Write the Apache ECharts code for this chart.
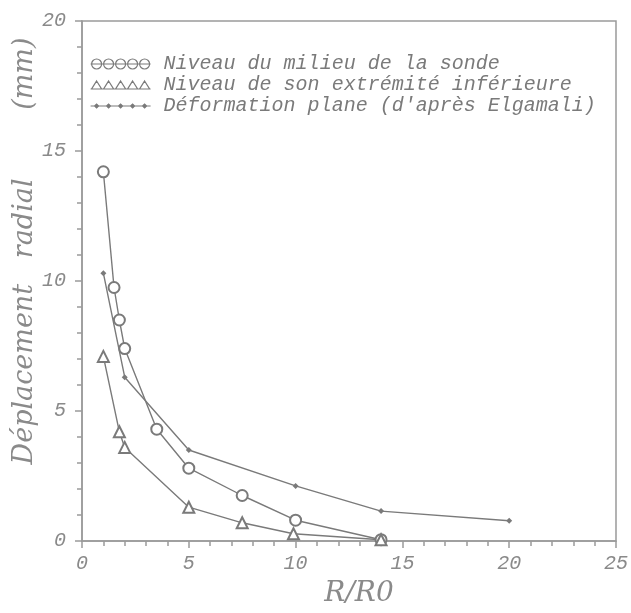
<!DOCTYPE html>
<html>
<head>
<meta charset="utf-8">
<script src="https://cdn.jsdelivr.net/npm/echarts@6/dist/echarts.min.js"></script>
<style>
  html, body { margin: 0; padding: 0; background: #fff; }
  #main { width: 631px; height: 613px; }
</style>
</head>
<body>
<div id="main"></div>
<script>
// R/R0 et déplacement radial (mm)
var rMilieu = [1, 1.5, 1.75, 2, 3.5, 5, 7.5, 10, 14];
var dMilieu = [14.2, 9.75, 8.5, 7.4, 4.3, 2.8, 1.75, 0.8, 0.05];

var rBas = [1, 1.75, 2, 5, 7.5, 9.9, 14];
var dBas = [7.1, 4.2, 3.6, 1.3, 0.7, 0.28, 0.05];

var rPlane = [1, 2, 5, 10, 14, 20];
var dPlane = [10.3, 6.3, 3.5, 2.12, 1.15, 0.78];

var noms = [
  'Niveau du milieu de la sonde',
  'Niveau de son extrémité inférieure',
  "Déformation plane (d'après Elgamali)"
];

var gris = '#7a7a7a';
var grisAxe = '#9a9a9a';

function paires(xs, ys) {
  return xs.map(function (x, i) { return [x, ys[i]]; });
}

// icones de légende : 5 symboles sur une ligne
var iconeCercles = 'path://M0,5 L60,5 ' +
  [6, 18, 30, 42, 54].map(function (c) {
    return 'M' + (c - 5) + ',5 A5,5 0 1,1 ' + (c + 5) + ',5 A5,5 0 1,1 ' + (c - 5) + ',5 Z';
  }).join(' ');
var iconeTriangles = 'path://M0,9 L60,9 ' +
  [6, 18, 30, 42, 54].map(function (c) {
    return 'M' + c + ',1 L' + (c + 5) + ',9 L' + (c - 5) + ',9 Z';
  }).join(' ');
var iconeEtoiles = 'path://M0,5 L60,5 ' +
  [6, 18, 30, 42, 54].map(function (c) {
    return 'M' + (c - 2) + ',5 L' + c + ',3 L' + (c + 2) + ',5 L' + c + ',7 Z';
  }).join(' ');

var chart = echarts.init(document.getElementById('main'));

var labelStyle = {
  fontFamily: 'Liberation Mono',
  fontStyle: 'italic',
  fontSize: 20,
  color: '#8a8a8a'
};

var option = {
  backgroundColor: '#fff',
  animation: false,
  grid: {
    left: 82, top: 21, right: 14, bottom: 59,
    show: true,
    borderColor: grisAxe,
    borderWidth: 1.5
  },
  legend: {
    orient: 'vertical',
    left: 85,
    top: 49,
    itemWidth: 60,
    itemHeight: 10,
    itemGap: 1,
    textStyle: {
      fontFamily: 'Liberation Mono',
      fontStyle: 'italic',
      fontSize: 20,
      lineHeight: 20,
      color: gris,
      padding: [0, 0, 0, 8]
    },
    data: [
      { name: noms[0], icon: iconeCercles, itemStyle: { color: '#fff', borderColor: gris, borderWidth: 1.2 } },
      { name: noms[1], icon: iconeTriangles, itemStyle: { color: '#fff', borderColor: gris, borderWidth: 1.2 } },
      { name: noms[2], icon: iconeEtoiles, itemStyle: { color: gris, borderColor: gris, borderWidth: 1.2 } }
    ]
  },
  xAxis: {
    type: 'value',
    min: 0, max: 25, interval: 5,
    name: 'R/R0',
    nameLocation: 'middle',
    nameGap: 39,
    nameTextStyle: {
      fontFamily: 'DejaVu Serif',
      fontStyle: 'italic',
      fontSize: 28,
      color: '#8a8a8a',
      padding: [0, 0, 0, 20]
    },
    axisLine: { lineStyle: { color: grisAxe, width: 1.5 } },
    axisTick: { length: 7, lineStyle: { color: grisAxe, width: 1.5 } },
    minorTick: { show: true, splitNumber: 5, length: 5, lineStyle: { color: grisAxe, width: 1.5 } },
    splitLine: { show: false },
    axisLabel: Object.assign({ margin: 13 }, labelStyle)
  },
  yAxis: {
    type: 'value',
    min: 0, max: 20, interval: 5,
    axisLine: { show: true, lineStyle: { color: grisAxe, width: 1.5 } },
    axisTick: { show: true, length: 7, lineStyle: { color: grisAxe, width: 1.5 } },
    minorTick: { show: true, splitNumber: 5, length: 5, lineStyle: { color: grisAxe, width: 1.5 } },
    splitLine: { show: false },
    axisLabel: Object.assign({ margin: 16 }, labelStyle)
  },
  graphic: [{
    type: 'text',
    x: 25,
    y: 251,
    rotation: Math.PI / 2,
    style: {
      text: 'Déplacement   radial        (mm)',
      font: 'italic 27px "DejaVu Serif"',
      fill: '#8a8a8a',
      align: 'center',
      verticalAlign: 'middle',
      textAlign: 'center',
      textVerticalAlign: 'middle'
    }
  }],
  series: [
    {
      name: noms[0],
      type: 'line',
      data: paires(rMilieu, dMilieu),
      symbol: 'emptyCircle',
      symbolSize: 11,
      lineStyle: { color: gris, width: 1.4 },
      itemStyle: { color: gris, borderWidth: 1.3 }
    },
    {
      name: noms[1],
      type: 'line',
      data: paires(rBas, dBas),
      symbol: 'emptyTriangle',
      symbolSize: 11,
      lineStyle: { color: gris, width: 1.4 },
      itemStyle: { color: gris, borderWidth: 1.3 }
    },
    {
      name: noms[2],
      type: 'line',
      data: paires(rPlane, dPlane),
      symbol: 'diamond',
      symbolSize: 6,
      lineStyle: { color: gris, width: 1.4 },
      itemStyle: { color: gris }
    }
  ]
};

chart.setOption(option);
</script>
</body>
</html>
